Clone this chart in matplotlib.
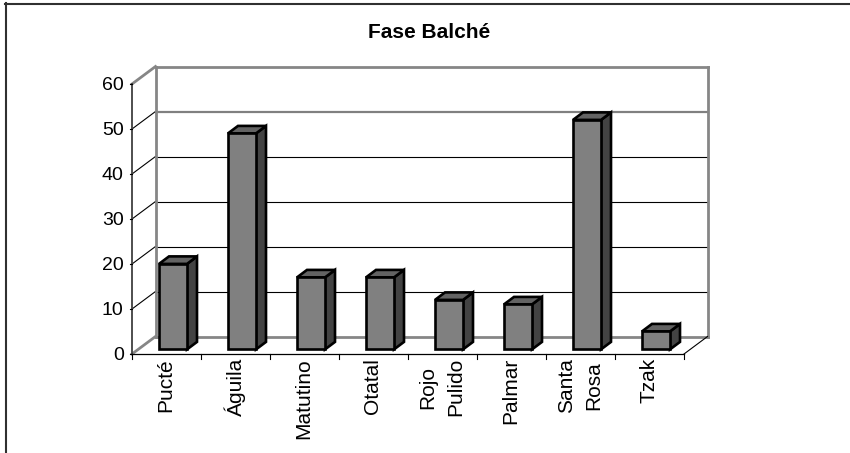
import matplotlib
matplotlib.use("Agg")
import matplotlib.pyplot as plt
from matplotlib.patches import Polygon
from matplotlib.lines import Line2D

plt.rcParams['font.family'] = ['Liberation Sans', 'DejaVu Sans']

title = "Fase Balché"
categories = ["Pucté", "Águila", "Matutino", "Otatal", "Rojo\nPulido", "Palmar", "Santa\nRosa", "Tzak"]
values = [19, 48, 16, 16, 11, 10, 51, 4]
yticks = [0, 10, 20, 30, 40, 50, 60]

W, H = 850, 453
fig = plt.figure(figsize=(W/100, H/100), dpi=100, facecolor="white")
L, R, B, T = 132, 684, 354, 84
ax = fig.add_axes([L/W, 1-B/H, (R-L)/W, (B-T)/H])
ax.set_xlim(-0.5, len(categories)-0.5)
ax.set_ylim(0, 60)
ax.axis("off")

# frame: only left and top edges are visible
fig.add_artist(Line2D([6/W, 6/W], [0, 1-3/H], transform=fig.transFigure, color="#303030", lw=1.5))
fig.add_artist(Line2D([5/W, 1], [1-4/H, 1-4/H], transform=fig.transFigure, color="#303030", lw=1.5))
fig.text(429/W, 1-32/H, title, ha="center", va="center", fontsize=15, fontweight="bold")

# oblique depth in data units
ddx = 23.5/69
ddy = 17.5/4.5
grey = "#868686"
n = len(categories)
x0, x1 = -0.5, n-0.5

# gridlines on wall and side
for y in yticks[1:-1]:
    c, lw = ("#808080", 1.6) if y == 50 else ("black", 0.8)
    ax.plot([x0, x0+ddx], [y, y+ddy], color="black", lw=0.8, clip_on=False, zorder=1)
    ax.plot([x0+ddx, x1+ddx], [y+ddy, y+ddy], color=c, lw=lw, clip_on=False, zorder=1)
# walls
ax.plot([x0+ddx, x0+ddx], [ddy, 60+ddy], color=grey, lw=2, clip_on=False, zorder=2)
ax.plot([x1+ddx, x1+ddx], [ddy, 60+ddy], color=grey, lw=2, clip_on=False, zorder=2)
ax.plot([x0+ddx, x1+ddx], [60+ddy, 60+ddy], color=grey, lw=2, clip_on=False, zorder=2)
ax.plot([x0+ddx, x1+ddx], [ddy, ddy], color=grey, lw=2, clip_on=False, zorder=2)
ax.plot([x0, x0+ddx], [60, 60+ddy], color=grey, lw=2, clip_on=False, zorder=2)
ax.plot([x0, x0+ddx], [0, ddy], color=grey, lw=2, clip_on=False, zorder=2)
ax.plot([x1, x1+ddx], [0, ddy], color="black", lw=0.8, clip_on=False, zorder=2)

# bars
bw = 28/69
off_x = 6.5/69
base = 4.6/4.5
bdx = 10/69
bdy = 7.5/4.5
for i, v in enumerate(values):
    xl = i + off_x - bw/2
    xr = xl + bw
    y0, y1 = base, base + v
    kw = dict(ec="black", lw=1.9, joinstyle="miter", clip_on=False, zorder=3)
    ax.add_patch(Polygon([(xr, y0), (xr+bdx, y0+bdy), (xr+bdx, y1+bdy), (xr, y1)], fc="#434343", **kw))
    ax.add_patch(Polygon([(xl, y1), (xr, y1), (xr+bdx, y1+bdy), (xl+bdx, y1+bdy)], fc="#636363", **kw))
    ax.add_patch(Polygon([(xl, y0), (xr, y0), (xr, y1), (xl, y1)], fc="#808080", **kw))

# front axes
ax.plot([x0, x0], [0, 60], color="#404040", lw=1.3, clip_on=False, zorder=4)
ax.plot([x0, x1], [0, 0], color="black", lw=0.9, clip_on=False, zorder=4)
for y in yticks:
    ax.plot([x0-0.035, x0], [y, y], color="black", lw=0.8, clip_on=False, zorder=4)
    ax.annotate(str(y), (x0, y), xytext=(-6, -1.3), textcoords="offset points", ha="right",
                va="center", fontsize=14, annotation_clip=False)
for i in range(n+1):
    ax.plot([x0+i, x0+i], [0, -1.1], color="black", lw=0.8, clip_on=False, zorder=4)
for i, c in enumerate(categories):
    ax.annotate(c, (i, 0), xytext=(-0.5, -3), textcoords="offset points", ha="center", va="top",
                rotation=90, fontsize=15, linespacing=1.55, multialignment="center", annotation_clip=False)

fig.savefig("out.png", dpi=100)
